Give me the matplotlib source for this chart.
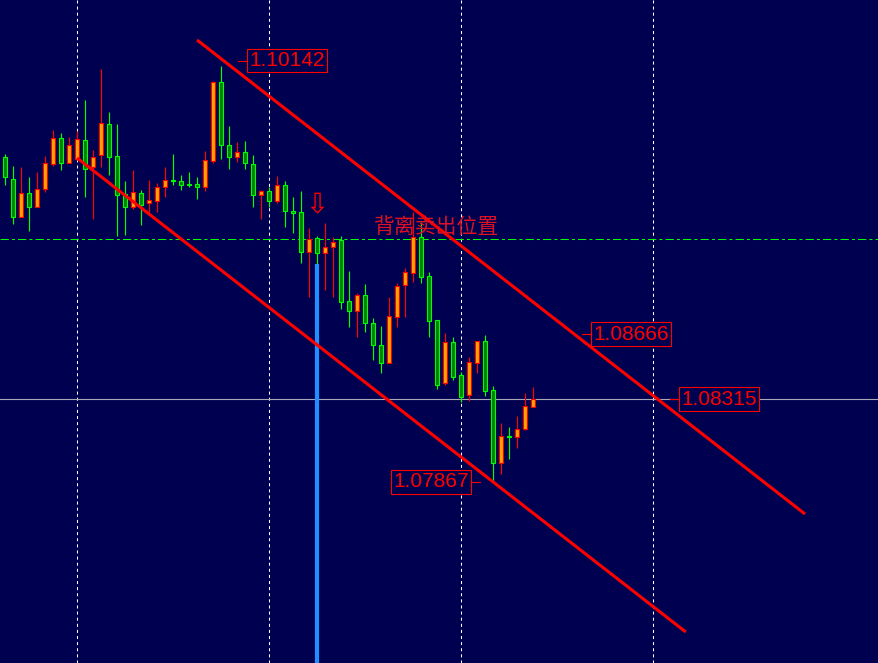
import matplotlib
matplotlib.use("Agg")
import matplotlib.pyplot as plt
import numpy as np

plt.rcParams['lines.scale_dashes'] = False

# velas (open, high, low, close)
opens = [1.09620, 1.09502, 1.09300, 1.09426, 1.09354, 1.09448, 1.09584, 1.09723, 1.09588, 1.09613,
         1.09714, 1.09566, 1.09631, 1.09800, 1.09627, 1.09422, 1.09350, 1.09426, 1.09372, 1.09386,
         1.09458, 1.09498, 1.09491, 1.09476, 1.09476, 1.09462, 1.09602, 1.10027, 1.09685, 1.09620,
         1.09649, 1.09584, 1.09418, 1.09437, 1.09386, 1.09469, 1.09329, 1.09323, 1.09111, 1.09183,
         1.09102, 1.09134, 1.09174, 1.08844, 1.08792, 1.08875, 1.08724, 1.08607, 1.08511, 1.08760,
         1.08929, 1.08997, 1.09188, 1.08979, 1.08742, 1.08400, 1.08623, 1.08443, 1.08335, 1.08511,
         1.08627, 1.08364, 1.07971, 1.08115, 1.08112, 1.08152, 1.08274]
highs = [1.09638, 1.09573, 1.09566, 1.09516, 1.09541, 1.09627, 1.09768, 1.09750, 1.09728, 1.09764,
         1.09930, 1.09660, 1.10096, 1.09865, 1.09800, 1.09494, 1.09552, 1.09444, 1.09498, 1.09483,
         1.09566, 1.09638, 1.09523, 1.09541, 1.09512, 1.09656, 1.10033, 1.10113, 1.09789, 1.09703,
         1.09707, 1.09631, 1.09444, 1.09462, 1.09519, 1.09494, 1.09408, 1.09438, 1.09239, 1.09195,
         1.09267, 1.09192, 1.09195, 1.09006, 1.08886, 1.08936, 1.08753, 1.08709, 1.08868, 1.08940,
         1.09023, 1.09325, 1.09271, 1.09001, 1.08742, 1.08670, 1.08652, 1.08461, 1.08540, 1.08627,
         1.08662, 1.08385, 1.08187, 1.08166, 1.08223, 1.08349, 1.08382]
lows = [1.09472, 1.09260, 1.09296, 1.09224, 1.09350, 1.09433, 1.09573, 1.09552, 1.09588, 1.09606,
        1.09404, 1.09289, 1.09566, 1.09526, 1.09195, 1.09202, 1.09343, 1.09253, 1.09321, 1.09325,
        1.09404, 1.09472, 1.09444, 1.09462, 1.09397, 1.09440, 1.09588, 1.09613, 1.09559, 1.09595,
        1.09559, 1.09354, 1.09286, 1.09354, 1.09372, 1.09246, 1.09213, 1.09048, 1.08868, 1.09044,
        1.08904, 1.08864, 1.08803, 1.08706, 1.08648, 1.08679, 1.08526, 1.08454, 1.08511, 1.08702,
        1.08760, 1.08949, 1.08943, 1.08652, 1.08371, 1.08392, 1.08418, 1.08301, 1.08306, 1.08457,
        1.08331, 1.07867, 1.07910, 1.07993, 1.08051, 1.08148, 1.08270]
closes = [1.09512, 1.09300, 1.09426, 1.09354, 1.09448, 1.09588, 1.09723, 1.09588, 1.09685, 1.09718,
          1.09559, 1.09624, 1.09804, 1.09620, 1.09418, 1.09350, 1.09433, 1.09364, 1.09390, 1.09458,
          1.09498, 1.09494, 1.09472, 1.09472, 1.09462, 1.09606, 1.10027, 1.09685, 1.09620, 1.09649,
          1.09588, 1.09418, 1.09437, 1.09386, 1.09469, 1.09332, 1.09321, 1.09111, 1.09178, 1.09102,
          1.09134, 1.09163, 1.08841, 1.08792, 1.08875, 1.08724, 1.08608, 1.08511, 1.08763, 1.08925,
          1.09000, 1.09188, 1.08976, 1.08738, 1.08392, 1.08623, 1.08436, 1.08328, 1.08515, 1.08627,
          1.08357, 1.07971, 1.08115, 1.08112, 1.08153, 1.08277, 1.08315]

# canal (indice de vela, precio)
upper_channel = [(24, 1.10254), (100, 1.07694)]
lower_channel = [(9, 1.09617), (85.1, 1.07057)]

grid_idx = [9, 33, 57, 81]
signal_idx = 39
sell_level = 1.09179
bid_price = 1.08315

# etiquetas de precio: (precio, indice texto, lado de la marca)
price_labels = [(1.10142, 30.5, 'left'), (1.08666, 73.5, 'left'),
                (1.08315, 84.5, 'left'), (1.07867, 48.5, 'right')]
note_text = '背离卖出位置'

BG = '#000050'
x = np.arange(len(opens))
o = np.array(opens); h = np.array(highs); l = np.array(lows); c = np.array(closes)
up = c >= o

fig = plt.figure(figsize=(8.79, 6.63), dpi=100, facecolor=BG)
ax = fig.add_axes([0, 0, 1, 1])
ax.set_facecolor(BG)
ax.set_xlim(-0.625, -0.625 + 879 / 8)
ax.set_ylim(1.068896, 1.104698)
ax.axis('off')

# Rejilla
for g in grid_idx:
    ax.axvline(g, color='white', lw=0.75, ls=(0, (2.2, 2.2)), zorder=1)
ax.axhline(sell_level, color='#00ff00', lw=0.75, ls=(0, (6, 2.2, 2.2, 2.2)), zorder=1)
ax.axhline(bid_price, color='#a8a8b8', lw=0.8, zorder=1)

# Velas
ax.vlines(x[up], l[up], h[up], color='#ff0000', lw=0.85, zorder=2)
ax.vlines(x[~up], l[~up], h[~up], color='#00ff00', lw=0.85, zorder=2)
body_lo = np.minimum(o, c)
body_h = np.maximum(np.abs(c - o), 0.00002)
ax.bar(x[up], body_h[up], bottom=body_lo[up], width=0.55,
       color='#ffa500', edgecolor='#ff0000', lw=0.8, zorder=3)
ax.bar(x[~up], body_h[~up], bottom=body_lo[~up], width=0.55,
       color='#008000', edgecolor='#00ff00', lw=0.8, zorder=3)

# Linea azul y flecha
ax.vlines(signal_idx, 1.0689, lows[signal_idx], color='#1e90ff', lw=3, zorder=2)
ax.text(signal_idx, highs[signal_idx] + 0.00165, '⇩', color='#ff0000', fontsize=20,
        ha='center', va='center', family='DejaVu Sans', zorder=5)

# Canal
for line in (upper_channel, lower_channel):
    xs, ys = zip(*line)
    ax.plot(xs, ys, color='#ff0000', lw=2.2, zorder=4, solid_capstyle='butt')

# Etiquetas
for price, tx, side in price_labels:
    ax.text(tx, price, f'{price:.5f}', color='#ff0000', fontsize=15,
            family='Liberation Sans', ha='left', va='center', zorder=6,
            bbox=dict(boxstyle='square,pad=0.1', fc=BG, ec='#ff0000', lw=0.8))
    if side == 'left':
        ax.plot([tx - 1.4, tx - 0.2], [price, price], color='#ff0000', lw=0.8, zorder=6)
    else:
        ax.plot([tx + 9.7, tx + 10.9], [price, price], color='#ff0000', lw=0.8, zorder=6)

ax.text(54.0, sell_level + 0.00065, note_text, color='#dd1122', fontsize=15,
        family=['Noto Sans CJK SC', 'DejaVu Sans'], ha='center', va='center', zorder=5)

fig.savefig('out.png', dpi=100, facecolor=BG)
